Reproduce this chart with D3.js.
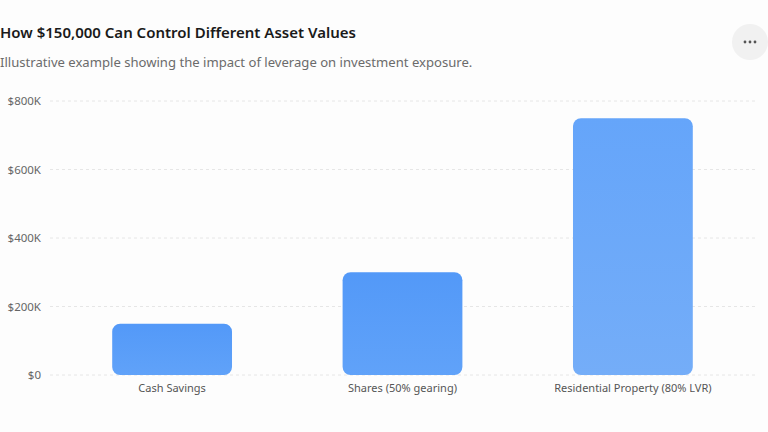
<!DOCTYPE html>
<html>
<head>
<meta charset="utf-8">
<script src="https://cdn.jsdelivr.net/npm/d3@7"></script>
<style>
  body { margin: 0; background: #fdfdfd; }
  svg { display: block; font-family: "Noto Sans", "Open Sans", sans-serif; }
</style>
</head>
<body>
<script>
// chart data
const categories = ['Cash Savings', 'Shares (50% gearing)', 'Residential Property (80% LVR)'];
const assetValues = [150000, 300000, 750000];
const yTicks = [0, 200000, 400000, 600000, 800000];

const W = 768, H = 432;

let svg = d3.select('body')
    .append('svg')
    .attr('width', W)
    .attr('height', H);

svg.append('rect')
    .attr('width', W)
    .attr('height', H)
    .attr('fill', '#fdfdfd');

// titles
svg.append('text')
    .attr('x', 0)
    .attr('y', 38)
    .attr('font-size', 15)
    .attr('font-weight', 600)
    .attr('fill', '#1a1a1a')
    .text('How $150,000 Can Control Different Asset Values');

svg.append('text')
    .attr('x', 0)
    .attr('y', 67)
    .attr('font-size', 13.1)
    .attr('fill', '#6b6b6b')
    .text('Illustrative example showing the impact of leverage on investment exposure.');

// menu button
svg.append('circle')
    .attr('cx', 750)
    .attr('cy', 42)
    .attr('r', 18)
    .attr('fill', '#f1f1f1');

svg.selectAll('.dot')
    .data([-5, 0, 5])
    .enter()
    .append('circle')
    .attr('cx', d => 750 + d)
    .attr('cy', 42)
    .attr('r', 1.4)
    .attr('fill', '#555');

// scales
let x = d3.scaleBand()
    .domain(categories)
    .range([50, 755])
    .paddingInner(0.48)
    .paddingOuter(0.27);

let y = d3.scaleLinear()
    .domain([0, 800000])
    .range([375, 101]);

// gridlines
svg.append('g')
    .selectAll('line')
    .data(yTicks)
    .enter()
    .append('line')
    .attr('x1', 50)
    .attr('x2', 755)
    .attr('y1', d => y(d))
    .attr('y2', d => y(d))
    .attr('stroke', '#e6e6e6')
    .attr('stroke-dasharray', '3,3');

// y axis labels
let yAxis = svg.append('g')
    .attr('transform', 'translate(41,0)')
    .call(d3.axisLeft(y)
        .tickValues(yTicks)
        .tickSize(0)
        .tickPadding(0)
        .tickFormat(d => d === 0 ? '$0' : '$' + (d / 1000) + 'K'));
yAxis.select('.domain').remove();
yAxis.selectAll('text')
    .attr('font-size', 11.5)
    .attr('fill', '#666')
    .attr('font-family', '"Noto Sans", sans-serif');

// x axis labels
let xAxis = svg.append('g')
    .attr('transform', 'translate(0,380)')
    .call(d3.axisBottom(x).tickSize(0).tickPadding(4));
xAxis.select('.domain').remove();
xAxis.selectAll('text')
    .attr('font-size', 11)
    .attr('fill', '#555')
    .attr('font-family', '"Noto Sans", sans-serif');

// bar gradients
let defs = svg.append('defs');
let grads = [
    ['#5399f8', '#60a2f9'],
    ['#5399f8', '#60a2f9'],
    ['#65a5fa', '#74adf8']
];
grads.forEach((g, i) => {
    let lg = defs.append('linearGradient')
        .attr('id', 'bar' + i)
        .attr('x1', 0).attr('y1', 0)
        .attr('x2', 0).attr('y2', 1);
    lg.append('stop').attr('offset', '0%').attr('stop-color', g[0]);
    lg.append('stop').attr('offset', '100%').attr('stop-color', g[1]);
});

// bars
svg.append('g')
    .selectAll('rect')
    .data(assetValues)
    .enter()
    .append('rect')
    .attr('x', (d, i) => x(categories[i]))
    .attr('y', d => y(d))
    .attr('width', x.bandwidth())
    .attr('height', d => y(0) - y(d))
    .attr('rx', 8)
    .attr('fill', (d, i) => 'url(#bar' + i + ')');
</script>
</body>
</html>
